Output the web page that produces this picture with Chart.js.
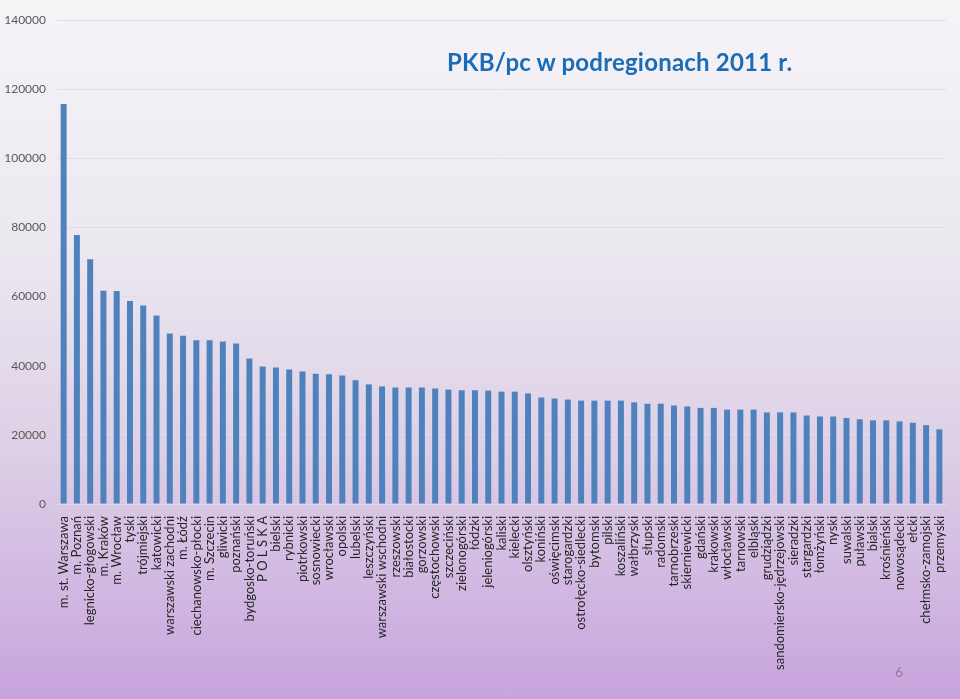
<!DOCTYPE html>
<html>
<head>
<meta charset="utf-8">
<script src="https://cdn.jsdelivr.net/npm/chart.js@4"></script>
<style>
  html, body { margin: 0; padding: 0; }
  body {
    width: 960px; height: 699px; overflow: hidden; position: relative;
    background: linear-gradient(to bottom, #f5f4f7 0%, #ece8f0 35%, #dccfe6 65%, #c8a4de 100%);
  }
  #wrap { position: absolute; left: 0; top: 0; width: 960px; height: 699px; }
  #title {
    position: absolute; left: 447px; top: 47px;
    font-family: Lato, "Open Sans", sans-serif; font-weight: bold; font-size: 24px;
    letter-spacing: 0.2px; color: #1b6cb6; white-space: nowrap;
  }
  #page {
    position: absolute; left: 895px; top: 663px;
    font-family: Lato, sans-serif; font-size: 14px; color: #8a7f99;
  }
</style>
</head>
<body>
<div id="wrap"><canvas id="chart" width="960" height="699"></canvas></div>
<div id="title">PKB/pc w podregionach 2011 r.</div>
<div id="page">6</div>
<script>
const regions = [
  "m. st. Warszawa", "m. Poznań", "legnicko-głogowski", "m. Kraków", "m. Wrocław",
  "tyski", "trójmiejski", "katowicki", "warszawski zachodni", "m. Łódź",
  "ciechanowsko-płocki", "m. Szczecin", "gliwicki", "poznański", "bydgosko-toruński",
  "P O L S K A", "bielski", "rybnicki", "piotrkowski", "sosnowiecki",
  "wrocławski", "opolski", "lubelski", "leszczyński", "warszawski wschodni",
  "rzeszowski", "białostocki", "gorzowski", "częstochowski", "szczeciński",
  "zielonogórski", "łódzki", "jeleniogórski", "kaliski", "kielecki",
  "olsztyński", "koniński", "oświęcimski", "starogardzki", "ostrołęcko-siedlecki",
  "bytomski", "pilski", "koszaliński", "wałbrzyski", "słupski",
  "radomski", "tarnobrzeski", "skierniewicki", "gdański", "krakowski",
  "włocławski", "tarnowski", "elbląski", "grudziądzki", "sandomiersko-jędrzejowski",
  "sieradzki", "stargardzki", "łomżyński", "nyski", "suwalski",
  "puławski", "bialski", "krośnieński", "nowosądecki", "ełcki",
  "chełmsko-zamojski", "przemyski"
];

const pkbPerCapita = [
  115700, 77800, 70800, 61700, 61600,
  58700, 57400, 54500, 49300, 48700,
  47400, 47400, 47000, 46400, 42100,
  39800, 39500, 38900, 38300, 37700,
  37500, 37200, 35800, 34600, 34000,
  33700, 33700, 33700, 33400, 33100,
  32900, 32900, 32800, 32500, 32500,
  32000, 30800, 30500, 30200, 29900,
  29900, 29900, 29900, 29400, 29000,
  29000, 28500, 28200, 27800, 27800,
  27300, 27300, 27300, 26500, 26500,
  26500, 25600, 25300, 25300, 24900,
  24500, 24200, 24200, 23900, 23500,
  22800, 21600
];

const yTicks = [0, 20000, 40000, 60000, 80000, 100000, 120000, 140000];

new Chart(document.getElementById("chart"), {
  type: "bar",
  data: {
    labels: regions,
    datasets: [{
      data: pkbPerCapita,
      backgroundColor: "#4f81bd",
      categoryPercentage: 0.5,
      barPercentage: 0.9
    }]
  },
  options: {
    responsive: false,
    animation: false,
    layout: { padding: { top: 20, right: 14, bottom: 0, left: 0 } },
    plugins: { legend: { display: false }, title: { display: false }, tooltip: { enabled: false } },
    scales: {
      x: {
        grid: { display: false },
        border: { color: "#dcd8e2" },
        ticks: {
          autoSkip: false, maxRotation: 90, minRotation: 90, padding: 4,
          color: "#262626", font: { family: "Lato, 'Open Sans', sans-serif", size: 13 }
        },
        afterFit: s => { s.height = 195; }
      },
      y: {
        min: 0, max: 140000,
        afterBuildTicks: s => { s.ticks = yTicks.map(v => ({ value: v })); },
        grid: { color: "#e2dee8", drawTicks: false },
        border: { display: false },
        ticks: {
          padding: 11, color: "#595959",
          font: { family: "Lato, 'Open Sans', sans-serif", size: 12 },
          callback: v => String(v)
        },
        afterFit: s => { s.width = 57; }
      }
    }
  }
});
</script>
</body>
</html>
